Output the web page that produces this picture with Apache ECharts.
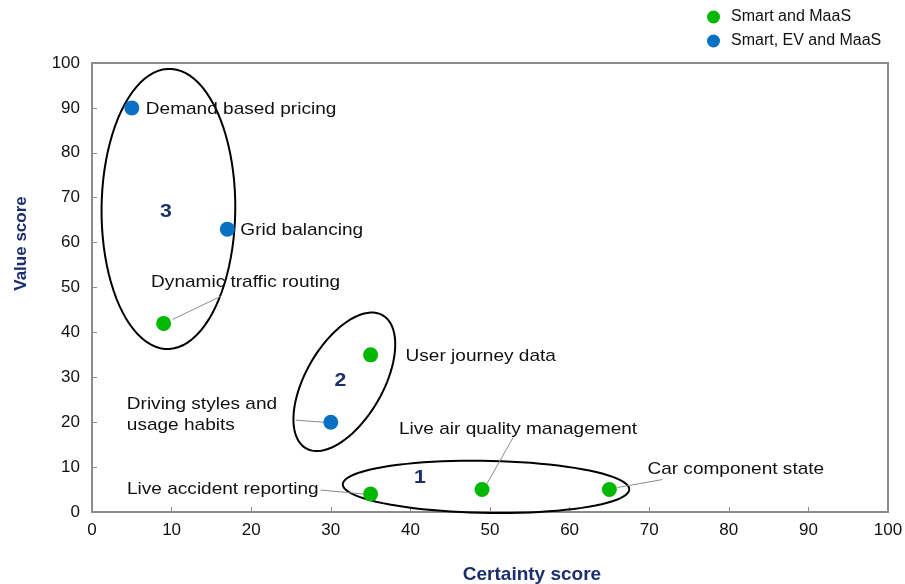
<!DOCTYPE html>
<html>
<head>
<meta charset="utf-8">
<title>Certainty vs value</title>
<script src="https://cdn.jsdelivr.net/npm/echarts@6/dist/echarts.min.js"></script>
<style>
  html, body { margin: 0; padding: 0; background: #fff; }
  #chart { width: 905px; height: 584px; }
</style>
</head>
<body>
<div id="chart"></div>
<script>
// points: [certainty, value, label]
const smartMaas = [
  [9, 42, 'Dynamic traffic routing'],
  [35, 35, 'User journey data'],
  [35, 4, 'Live accident reporting'],
  [49, 5, 'Live air quality management'],
  [65, 5, 'Car component state']
];
const smartEvMaas = [
  [5, 90, 'Demand based pricing'],
  [17, 63, 'Grid balancing'],
  [30, 20, 'Driving styles and\nusage habits']
];
// cluster ellipses: [cx, cy, rx, ry, tilt deg]
const clusters = [
  [49.5, 5.6, 18.0, 5.8, 1],
  [31.7, 29.0, 4.85, 17.1, 30],
  [9.6, 67.5, 8.4, 31.2, 0.5]
];
const clusterNums = [[41.2, 7.6, '1'], [31.2, 29.2, '2'], [9.3, 66.8, '3']];
const ticks = [0, 10, 20, 30, 40, 50, 60, 70, 80, 90, 100];

// label placement (pixels from the dot): text offset, align, leader line from/to
const labelPos = {
  'Demand based pricing': { t: [14, 1], a: 'left' },
  'Grid balancing': { t: [13, 1], a: 'left' },
  'Dynamic traffic routing': { t: [82, -41], a: 'center', l: [[9, -4], [57, -27]] },
  'User journey data': { t: [35, 1], a: 'left' },
  'Driving styles and\nusage habits': { t: [-204, -7], a: 'left', l: [[-35, -2], [-7, 0]] },
  'Live accident reporting': { t: [-52, -5], a: 'right', l: [[-50, -4], [-7, 0]] },
  'Live air quality management': { t: [36, -60], a: 'center', l: [[5, -6], [31, -52]] },
  'Car component state': { t: [38, -20], a: 'left', l: [[8, -2], [53, -10]] }
};

const FONT = '"Liberation Sans", Arial, sans-serif';
const GREEN = '#00b800';
const BLUE = '#0a70c4';
const NAVY = '#1b2f6e';
const WIDE = 1.12; // the source text is drawn a bit wide

const chart = echarts.init(document.getElementById('chart'), null, { renderer: 'canvas' });

function renderEllipse(params, api) {
  const c = api.coord([api.value(0), api.value(1)]);
  const rx = api.size([api.value(2), 0])[0];
  const ry = api.size([0, api.value(3)])[1];
  const a = api.value(4) * Math.PI / 180;
  const pts = [];
  for (let i = 0; i < 90; i++) {
    const t = i / 90 * Math.PI * 2;
    const x = rx * Math.cos(t), y = ry * Math.sin(t);
    pts.push([c[0] + x * Math.cos(a) - y * Math.sin(a), c[1] + x * Math.sin(a) + y * Math.cos(a)]);
  }
  return {
    type: 'polygon',
    shape: { points: pts },
    style: { fill: 'none', stroke: '#000', lineWidth: 2 }
  };
}

function renderLabel(params, api) {
  const name = smartMaas.concat(smartEvMaas)[params.dataIndex][2];
  const p = api.coord([api.value(0), api.value(1)]);
  const cfg = labelPos[name];
  const children = [{
    type: 'text',
    x: p[0] + cfg.t[0],
    y: p[1] + cfg.t[1],
    scaleX: WIDE,
    style: {
      text: name, fill: '#111', font: '17px ' + FONT,
      align: cfg.a, verticalAlign: 'middle', lineHeight: 21
    }
  }];
  if (cfg.l) {
    children.push({
      type: 'line',
      shape: { x1: p[0] + cfg.l[0][0], y1: p[1] + cfg.l[0][1], x2: p[0] + cfg.l[1][0], y2: p[1] + cfg.l[1][1] },
      style: { stroke: '#8a8a8a', lineWidth: 1 }
    });
  }
  return { type: 'group', children: children };
}

function renderNum(params, api) {
  const p = api.coord([api.value(0), api.value(1)]);
  return {
    type: 'text', x: p[0], y: p[1],
    scaleX: WIDE,
    style: {
      text: clusterNums[params.dataIndex][2], fill: NAVY,
      font: 'bold 19px ' + FONT, align: 'center', verticalAlign: 'middle'
    }
  };
}

chart.setOption({
  animation: false,
  textStyle: { fontFamily: FONT },
  legend: {
    data: ['Smart and MaaS', 'Smart, EV and MaaS'],
    orient: 'vertical',
    left: 702, top: 4,
    itemWidth: 13, itemHeight: 13, itemGap: 8,
    icon: 'circle',
    textStyle: { fontSize: 16, color: '#111', fontFamily: FONT, padding: [0, 0, 0, 6] }
  },
  grid: {
    left: 92, right: 17, top: 63, bottom: 72,
    outerBoundsMode: 'none',
    show: true, borderColor: '#8c8c8c', borderWidth: 2
  },
  xAxis: {
    type: 'value', min: 0, max: 100, interval: 10,
    name: 'Certainty score', nameLocation: 'middle', nameGap: 53,
    nameTextStyle: { fontSize: 19, fontWeight: 'bold', color: NAVY, padding: [0, 0, 0, 84] },
    axisLine: { show: true, lineStyle: { color: '#8c8c8c', width: 2 } },
    axisTick: { show: true, inside: true, length: 5, lineStyle: { color: '#8c8c8c' } },
    axisLabel: { fontSize: 17, color: '#111', margin: 10,
      formatter: v => ticks.indexOf(v) >= 0 ? String(v) : '' },
    splitLine: { show: false }
  },
  yAxis: {
    type: 'value', min: 0, max: 100, interval: 10,
    name: 'Value score', nameLocation: 'middle', nameGap: 62,
    nameTextStyle: { fontSize: 17, fontWeight: 'bold', color: NAVY, padding: [0, 0, 0, 88] },
    axisLine: { show: true, lineStyle: { color: '#8c8c8c', width: 2 } },
    axisTick: { show: true, inside: true, length: 5, lineStyle: { color: '#8c8c8c' } },
    axisLabel: { fontSize: 17, color: '#111', margin: 12 },
    splitLine: { show: false }
  },
  series: [
    {
      type: 'custom', name: 'clusters', coordinateSystem: 'cartesian2d',
      renderItem: renderEllipse, data: clusters, encode: { x: 0, y: 1 }, silent: true, z: 1
    },
    {
      type: 'scatter', name: 'Smart and MaaS', data: smartMaas,
      symbolSize: 15, itemStyle: { color: GREEN, opacity: 1 }, z: 3
    },
    {
      type: 'scatter', name: 'Smart, EV and MaaS', data: smartEvMaas,
      symbolSize: 15, itemStyle: { color: BLUE, opacity: 1 }, z: 3
    },
    {
      type: 'custom', name: 'labels', coordinateSystem: 'cartesian2d',
      renderItem: renderLabel, data: smartMaas.concat(smartEvMaas), encode: { x: 0, y: 1 }, silent: true, z: 2
    },
    {
      type: 'custom', name: 'numbers', coordinateSystem: 'cartesian2d',
      renderItem: renderNum, data: clusterNums, encode: { x: 0, y: 1 }, silent: true, z: 2
    }
  ]
});
</script>
</body>
</html>
